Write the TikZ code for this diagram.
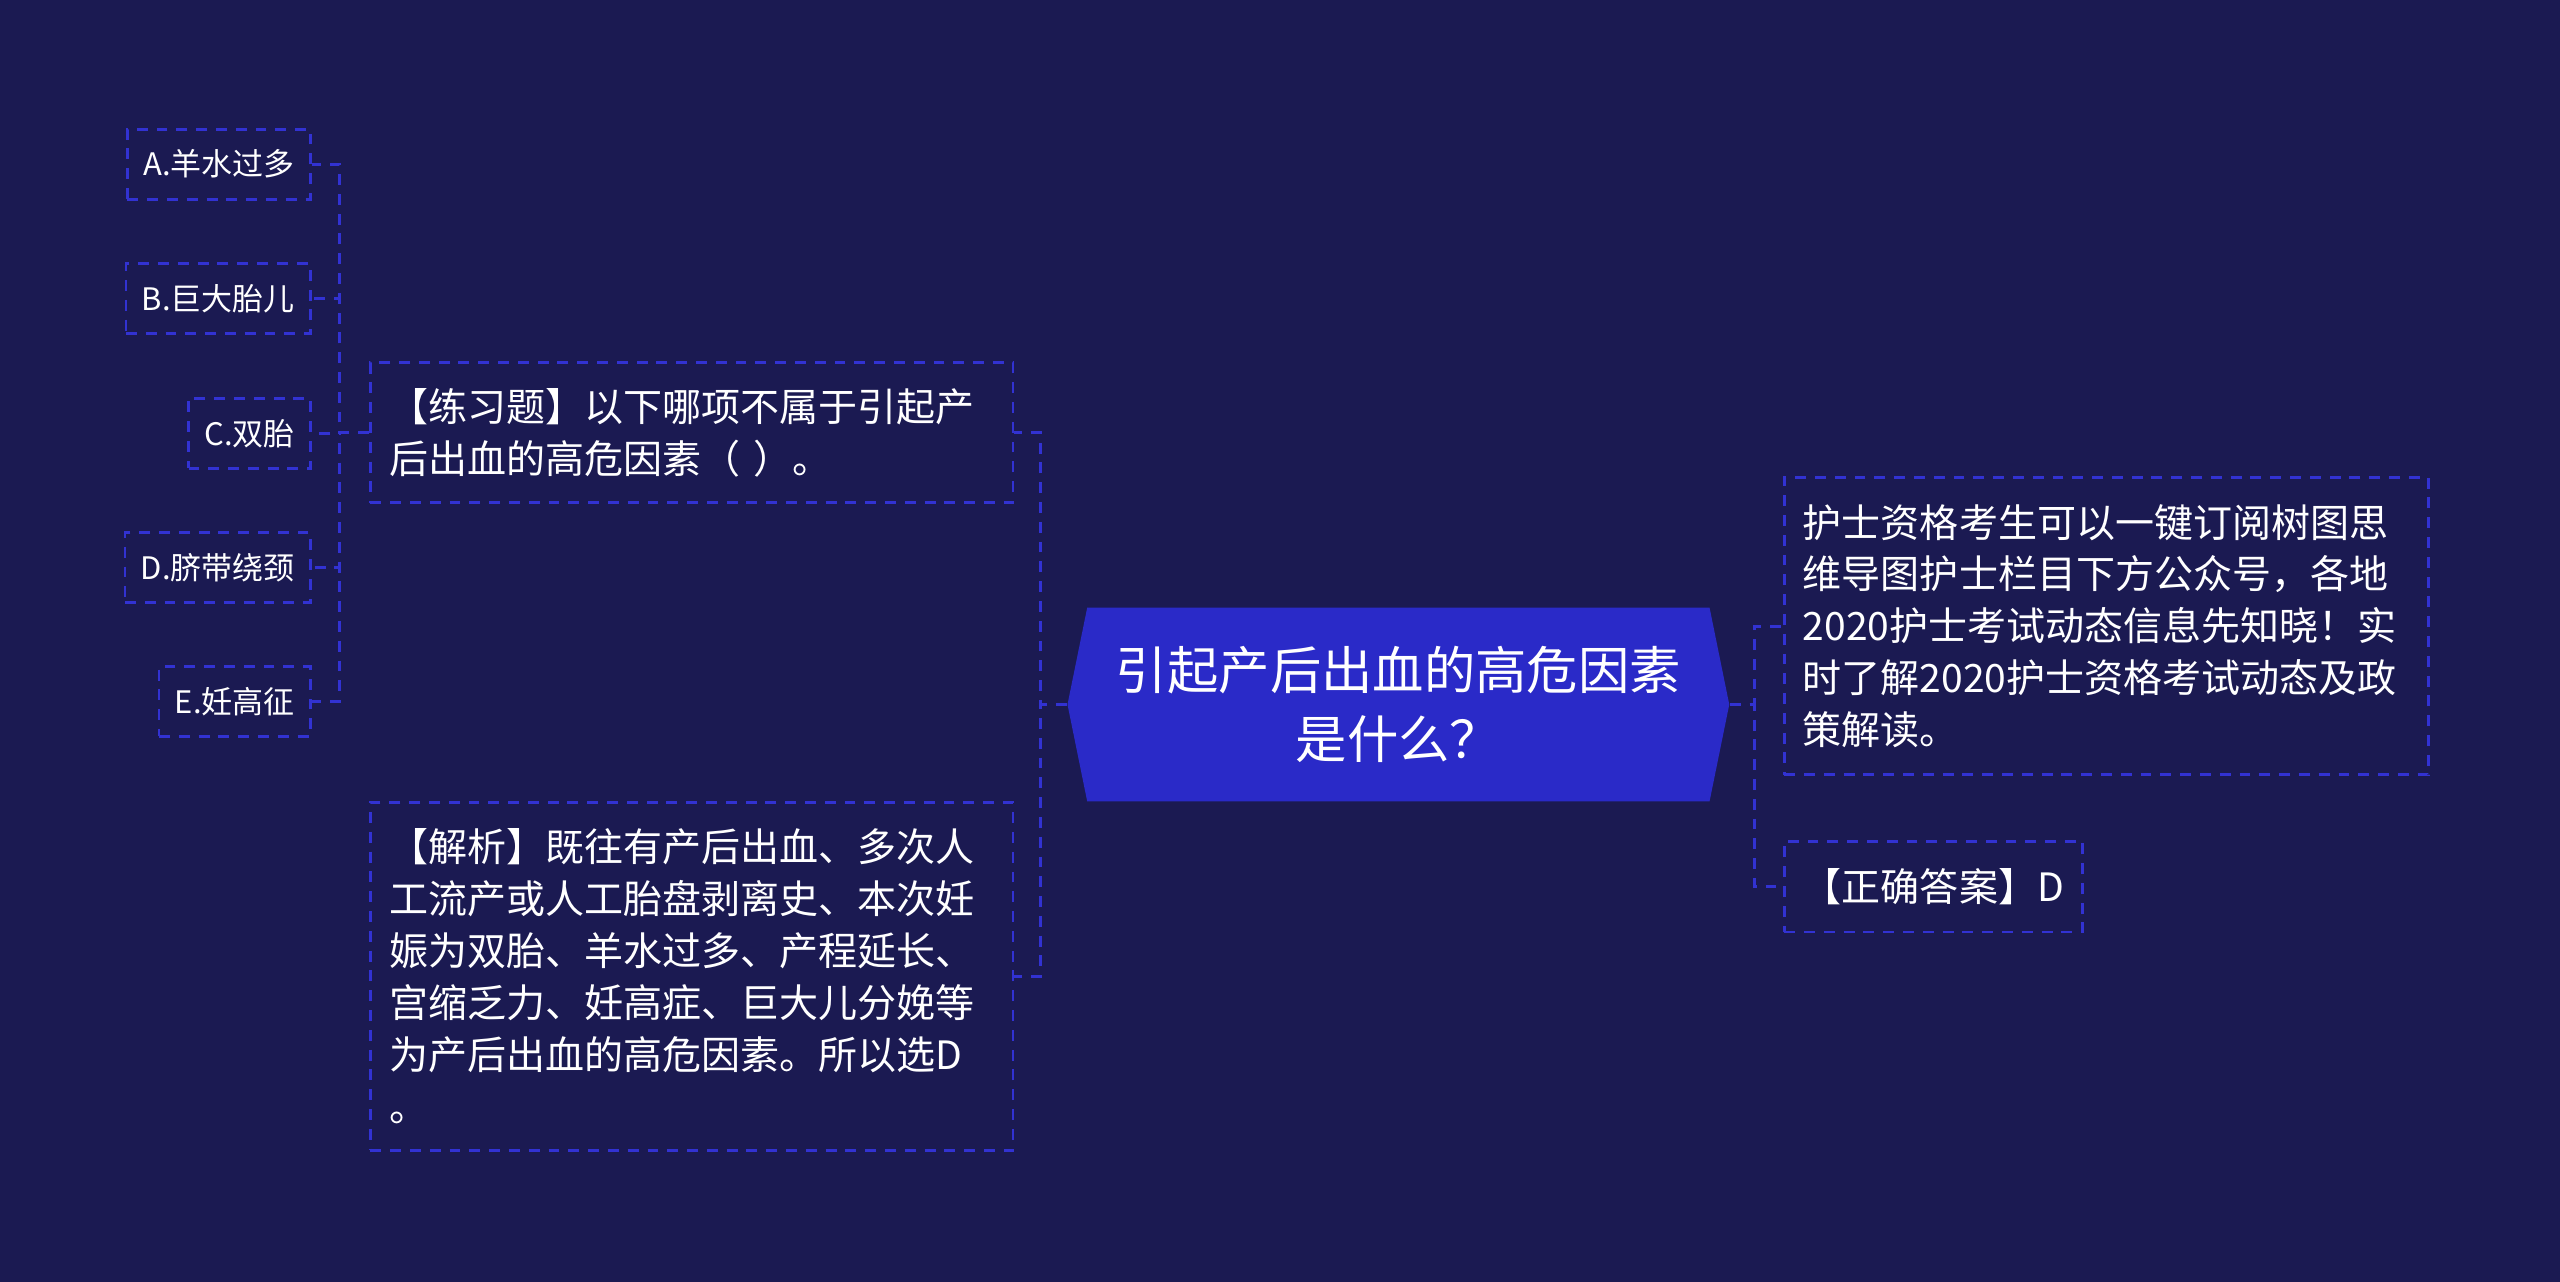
\documentclass[tikz,border=0pt]{standalone}
\usepackage{fontspec}
\setmainfont{Noto Sans CJK SC}
\usepackage{tikz}
\usetikzlibrary{positioning}
\usetikzlibrary{shapes}
\definecolor{fond}{RGB}{27,26,82}
\definecolor{bleu}{RGB}{42,42,200}
\definecolor{trait}{RGB}{50,50,210}
\tikzset{
  mm_node/.style = {inner sep=0pt, text=white},
  mm_root/.style = {mm_node, shape=signal, signal to=west and east,
    signal pointer angle=157, fill=bleu, minimum width=230.7pt,
    minimum height=67.5pt, align=center,
    font=\fontsize{17.9}{23.8}\selectfont},% noeud central
  mm_dash/.style = {draw=trait, line width=1pt,
    dash pattern=on 3.8pt off 3.1pt},% trait pointille
  mm_box/.style = {mm_node, mm_dash, align=left, inner xsep=6.5pt,
    text width=211pt, font=\fontsize{13.6}{18.1}\selectfont},% bloc de texte
  mm_opt/.style = {mm_node, mm_dash, inner xsep=5.5pt, minimum height=24.4pt,
    font=\fontsize{10.8}{13}\selectfont}% choix A..E
}

\begin{document}
\begin{tikzpicture}[x=0.02cm,y=-0.02cm]
\fill[fond] (0,0) rectangle (1568,785);
\useasboundingbox (0,0) rectangle (1568,785);

\node [mm_root] (root) at (856.5,431.5) {引起产后出血的高危因素\\是什么？};

\node [mm_box, anchor=west, minimum height=48.8pt] (ex) at (226,265)
  {【练习题】以下哪项不属于引起产\\后出血的高危因素（ ）。};
\node [mm_box, anchor=west, minimum height=121.3pt] (an) at (226,598)
  {【解析】既往有产后出血、多次人\\工流产或人工胎盘剥离史、本次妊\\娠为双胎、羊水过多、产程延长、\\宫缩乏力、妊高症、巨大儿分娩等\\为产后出血的高危因素。所以选D\\。};

\node [mm_opt, anchor=east] (optA) at (191,100.5) {A.羊水过多};
\node [mm_opt, anchor=east] (optB) at (191,183) {B.巨大胎儿};
\node [mm_opt, anchor=east] (optC) at (191,265.5) {C.双胎};
\node [mm_opt, anchor=east] (optD) at (191,347.5) {D.脐带绕颈};
\node [mm_opt, anchor=east] (optE) at (191,429.5) {E.妊高征};

\node [mm_box, anchor=west, text width=211.5pt, minimum height=103.7pt] (info) at (1092,383.5)
  {护士资格考生可以一键订阅树图思\\维导图护士栏目下方公众号，各地\\2020护士考试动态信息先知晓！实\\时了解2020护士资格考试动态及政\\策解读。};
\node [mm_box, anchor=west, text width=, minimum height=31.7pt] (ans) at (1092,543)
  {【正确答案】D};

% branches gauche
\draw[mm_dash] (root.west) -- ++(-16,0) |- (ex.east);
\draw[mm_dash] (root.west) -- ++(-16,0) |- (an.east);
\foreach \o in {A,B,C,D,E}
  \draw[mm_dash] (ex.west) -- ++(-18,0) |- (opt\o.east);
% branches droite
\draw[mm_dash] (root.east) -- ++(15,0) |- (info.west);
\draw[mm_dash] (root.east) -- ++(15,0) |- (ans.west);
\end{tikzpicture}
\end{document}
